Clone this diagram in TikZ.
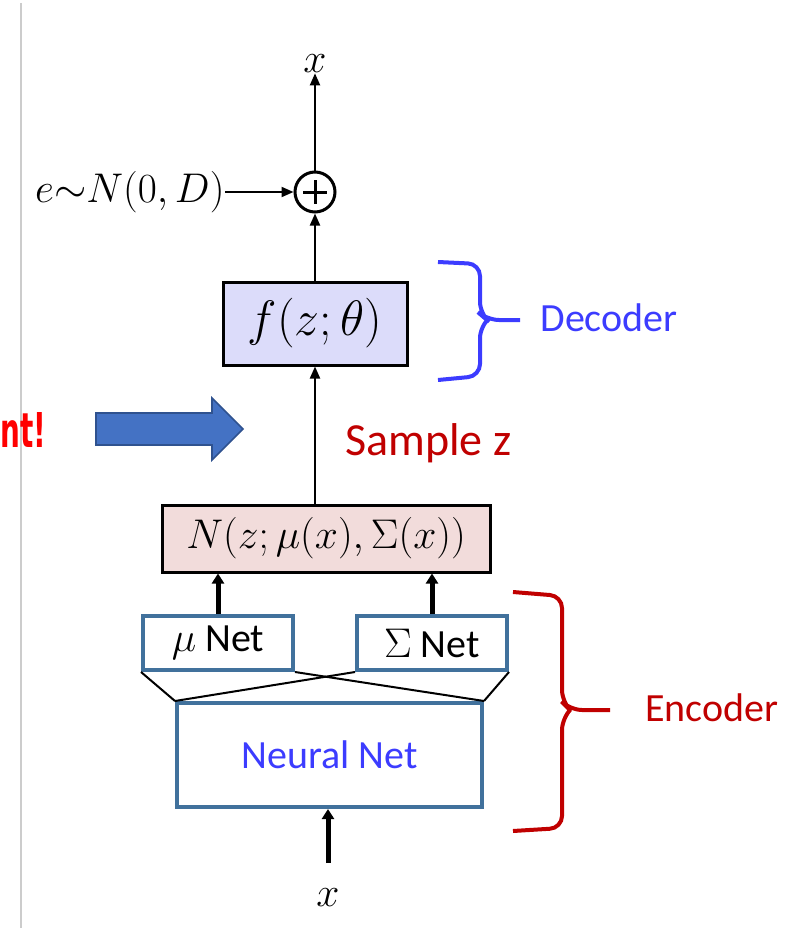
\documentclass[tikz,border=0pt]{standalone}
\usepackage{fontspec}
\setsansfont{Carlito}
\newfontfamily\warnfont{DejaVu Sans}
\usepackage{tikz}
\usetikzlibrary{arrows.meta,calc}

\definecolor{netblue}{HTML}{41719C}
\definecolor{decblue}{HTML}{3C3CFF}
\definecolor{encred}{HTML}{C00000}
\definecolor{decfill}{HTML}{DCDCFA}
\definecolor{gaussfill}{HTML}{F2DCDB}
\definecolor{bigarrow}{HTML}{4472C4}
\definecolor{bigarrowline}{HTML}{2F528F}

\begin{document}
\begin{tikzpicture}[x=0.5pt,y=-0.5pt,
  mathbox/.style={draw=black,line width=1.5pt,inner sep=0pt,font=\fontsize{25}{28}\selectfont},
  netbox/.style={draw=netblue,line width=2pt,fill=white,inner sep=0pt,font=\sffamily\fontsize{20}{24}\selectfont},
  label/.style={inner sep=0pt,font=\fontsize{20}{24}\selectfont},
  arr/.style={line width=1pt,-{Triangle[length=6pt,width=5pt]}},
  fatarr/.style={line width=2.5pt,-{Triangle[length=5pt,width=6pt]}},
  bracket/.style={line width=2pt,rounded corners=6pt}]
\useasboundingbox (0,0) rectangle (789,931);
\draw[gray!40,line width=0.6pt] (21,3) -- (21,928);

% decoder side
\node[label] (xout) at (315,64) {$x$};
\node[draw,circle,line width=1.5pt,minimum size=20pt,inner sep=0pt] (plus) at (315,192) {};
\draw[line width=1.5pt] ($(plus.center)+(-12,0)$) -- ($(plus.center)+(12,0)$);
\draw[line width=1.5pt] ($(plus.center)+(0,-12)$) -- ($(plus.center)+(0,12)$);
\node[label,anchor=east] (noise) at (225,192) {$e{\sim}N(0,D)$};
\node[mathbox,fill=decfill,minimum width=92pt,minimum height=41.5pt] (dec) at (315,323.5) {$f(z;\theta)$};

\draw[arr] (noise) -- (plus);
\draw[arr] (plus) -- (xout);
\draw[arr] (dec) -- (plus);

% sampling
\node[mathbox,fill=gaussfill,font=\fontsize{22}{26}\selectfont,minimum width=164pt,minimum height=33.5pt] (gauss) at (326,538.5) {$N(z;\mu(x),\Sigma(x))$};
\draw[arr] (dec.south |- gauss.north) -- (dec.south);
\node[inner sep=0pt,text=encred,font=\sffamily\fontsize{23}{26}\selectfont,anchor=west] (sample) at (345,443) {Sample z};

% encoder side
\node[netbox,minimum width=75pt,minimum height=27pt] (munet) at (218,643) {$\mu$ Net};
\node[netbox,minimum width=75pt,minimum height=27pt] (signet) at (432,643) {$\Sigma$ Net};
\node[netbox,text=decblue,minimum width=152.5pt,minimum height=52pt] (nn) at (329.5,755) {Neural Net};
\node[label] (xin) at (328,898) {$x$};

\draw[line width=1pt] (munet.south west) -- (nn.north west);
\draw[line width=1pt] (munet.south east) -- (nn.north east);
\draw[line width=1pt] (signet.south west) -- (nn.north west);
\draw[line width=1pt] (signet.south east) -- (nn.north east);

\draw[fatarr] (munet.north) -- (munet.north |- gauss.south);
\draw[fatarr] (signet.north) -- (signet.north |- gauss.south);
\draw[fatarr] (xin.north |- 0,863) -- (xin.north |- nn.south);

% brackets
\draw[bracket,decblue] (438,262) -- (480,264) -- (480,314) -- (487,320) -- (520,320);
\draw[bracket,decblue] (487,320) -- (480,326) -- (480,376) -- (438,380);
\node[inner sep=0pt,text=decblue,font=\sffamily\fontsize{20}{24}\selectfont,anchor=west] (declabel) at (540,318) {Decoder};

\draw[bracket,encred] (513,592) -- (562,596) -- (562,702) -- (570,710) -- (610,710);
\draw[bracket,encred] (570,710) -- (562,718) -- (562,828) -- (513,831);
\node[inner sep=0pt,text=encred,font=\sffamily\fontsize{20}{24}\selectfont,anchor=west] (enclabel) at (645,708) {Encoder};

% big arrow
\draw[fill=bigarrow,draw=bigarrowline,line width=0.8pt] (96,413) -- (212,413) -- (212,398) -- (243,429) -- (212,460) -- (212,445) -- (96,445) -- cycle;
\node[inner sep=0pt,text=red,font=\warnfont\bfseries\fontsize{24}{26}\selectfont,anchor=west] (warn) at (0,430) {\scalebox{0.58}[1]{nt!}};
\end{tikzpicture}
\end{document}
